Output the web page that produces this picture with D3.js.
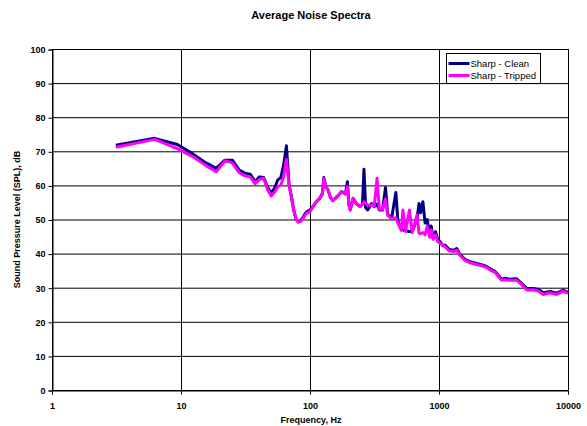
<!DOCTYPE html>
<meta charset="utf-8">
<style>
body { margin: 0; background: #fff; }
text { font-family: "Liberation Sans", Arial, sans-serif; font-weight: bold; }
</style>
<body>
<script src="https://cdn.jsdelivr.net/npm/d3@7"></script>
<script>

// frequency bins (Hz) and levels (dB)
var freq = [3.125, 6.25, 9.375, 12.5, 15.625, 18.75, 21.875, 25, 28.125, 31.25,
  34.375, 37.5, 40.625, 43.75, 46.875, 50, 53.125, 56.25, 59.375, 62.5,
  65.625, 68.75, 71.875, 75, 78.125, 81.25, 84.375, 87.5, 90.625, 93.75,
  100, 106, 112, 119, 125, 128, 133, 138, 144, 150,
  157, 165, 176, 188, 195, 200, 205, 216, 228, 245,
  255, 262, 270, 280, 300, 315, 331, 345, 365, 385,
  400, 430, 463, 480, 510, 525, 550, 590, 620, 675,
  700, 720, 750, 780, 810, 850, 870, 900, 940, 980,
  1020, 1070, 1113, 1200, 1300, 1372, 1450, 1591, 1750, 1960,
  2200, 2342, 2550, 2718, 2900, 3063, 3250, 3500, 4000, 4300,
  4785, 5387, 5900, 6441, 7250, 8170, 9200, 10000];

var clean = [71.8, 73.8, 72.0, 69.1, 66.6, 65.0, 67.4, 67.4, 64.6, 63.6,
  63.3, 61.1, 62.5, 62.3, 59.5, 57.7, 59.2, 61.6, 62.3, 66.0,
  71.6, 60.5, 56.5, 52.5, 50.0, 49.3, 49.6, 50.4, 51.4, 52.2,
  52.8, 53.9, 55.2, 56.2, 57.8, 62.3, 59.5, 58.7, 56.5, 55.5,
  56.2, 57.0, 58.2, 57.5, 61.1, 54.5, 52.8, 56.2, 54.7, 53.8,
  54.5, 64.7, 53.5, 52.8, 54.7, 53.8, 54.5, 52.8, 52.8, 59.4,
  51.5, 50.5, 57.9, 49.5, 47.2, 47.0, 46.7, 46.5, 46.5, 50.0,
  54.7, 52.0, 55.2, 49.0, 50.0, 45.0, 48.1, 44.5, 46.4, 44.0,
  43.5, 42.3, 42.5, 41.2, 41.0, 41.5, 39.8, 38.3, 37.6, 37.1,
  36.6, 36.2, 35.3, 34.8, 33.5, 32.5, 32.8, 32.5, 32.6, 31.5,
  29.8, 29.8, 29.5, 28.5, 28.9, 28.4, 29.3, 28.6];

var tripped = [71.2, 73.5, 70.8, 68.3, 65.8, 64.0, 67.2, 66.6, 63.8, 62.8,
  62.5, 60.5, 61.8, 62.0, 58.8, 56.9, 58.0, 59.6, 60.1, 62.5,
  67.6, 60.0, 56.5, 52.5, 50.0, 49.3, 49.4, 50.0, 51.0, 51.8,
  52.3, 53.8, 55.2, 56.2, 57.5, 62.0, 59.5, 58.7, 56.5, 55.5,
  56.2, 57.0, 58.2, 57.5, 59.6, 54.5, 52.8, 56.2, 54.7, 53.8,
  54.5, 55.2, 54.8, 54.2, 54.3, 54.0, 62.1, 53.0, 53.0, 56.0,
  51.2, 50.2, 50.5, 49.0, 46.8, 52.8, 46.5, 52.8, 46.2, 51.3,
  46.0, 45.8, 46.2, 45.5, 48.0, 44.8, 47.0, 44.2, 45.5, 43.5,
  43.0, 42.5, 42.0, 40.8, 40.6, 41.0, 39.5, 38.0, 37.3, 36.8,
  36.3, 35.9, 35.0, 34.5, 33.2, 32.2, 32.3, 32.2, 32.2, 31.2,
  29.3, 29.4, 29.0, 28.0, 28.5, 28.0, 29.0, 28.3];

var xTicks = [1, 10, 100, 1000, 10000];
var yTicks = [0, 10, 20, 30, 40, 50, 60, 70, 80, 90, 100];
var seriesNames = ["Sharp - Clean", "Sharp - Tripped"];
var seriesColors = ["#000080", "#ff00ff"];

var width = 587, height = 426;
var margin = {top: 49, right: 19, bottom: 36, left: 52};

var svg = d3.select("body").append("svg")
  .attr("width", width)
  .attr("height", height);

var x = d3.scaleLog().domain([1, 10000]).range([margin.left, width - margin.right]);
var y = d3.scaleLinear().domain([0, 100]).range([height - margin.bottom, margin.top]);

// grid
svg.append("g").selectAll("line")
  .data(yTicks)
  .enter().append("line")
    .attr("x1", x(1)).attr("x2", x(10000))
    .attr("y1", function(d) { return y(d) + 0.5; })
    .attr("y2", function(d) { return y(d) + 0.5; })
    .attr("stroke", "#000").attr("stroke-width", 1);

svg.append("g").selectAll("line")
  .data(xTicks)
  .enter().append("line")
    .attr("x1", function(d) { return Math.round(x(d)) + 0.5; })
    .attr("x2", function(d) { return Math.round(x(d)) + 0.5; })
    .attr("y1", y(100)).attr("y2", y(0))
    .attr("stroke", "#000").attr("stroke-width", 1);

// axes
var yAxis = svg.append("g")
  .attr("transform", "translate(" + (x(1) + 0.5) + ",0.5)")
  .call(d3.axisLeft(y).tickValues(yTicks).tickSize(4).tickPadding(3));

var xAxis = svg.append("g")
  .attr("transform", "translate(0," + (y(0) + 0.5) + ")")
  .call(d3.axisBottom(x).tickValues(xTicks).tickFormat(d3.format("d")).tickSize(4).tickPadding(8));

svg.selectAll(".domain").attr("stroke", "#000");
svg.selectAll(".tick line").attr("stroke", "#000");
svg.selectAll(".tick text").style("font-size", "9px").attr("fill", "#000");

// lines
var rows = freq.map(function(f, i) { return {f: f, v: [clean[i], tripped[i]]}; });

[0, 1].forEach(function(k) {
  var line = d3.line()
    .x(function(d) { return x(d.f); })
    .y(function(d) { return y(d.v[k]); });
  svg.append("path")
    .datum(rows)
    .attr("fill", "none")
    .attr("stroke", seriesColors[k])
    .attr("stroke-width", 3)
    .attr("stroke-linejoin", "round")
    .attr("d", line);
});

// titles
svg.append("text")
  .attr("x", 311).attr("y", 19)
  .attr("text-anchor", "middle")
  .style("font-size", "11px")
  .text("Average Noise Spectra");

svg.append("text")
  .attr("x", 311).attr("y", 423)
  .attr("text-anchor", "middle")
  .style("font-size", "9px")
  .text("Frequency, Hz");

svg.append("text")
  .attr("transform", "translate(20," + y(50) + ") rotate(-90)")
  .attr("text-anchor", "middle")
  .style("font-size", "9px")
  .text("Sound Pressure Level (SPL), dB");

// legend
var legend = svg.append("g").attr("transform", "translate(446.5,53.5)");
legend.append("rect")
  .attr("width", 94).attr("height", 30)
  .attr("fill", "#fff").attr("stroke", "#000");

var item = legend.selectAll(".item")
  .data(seriesNames)
  .enter().append("g")
    .attr("transform", function(d, i) { return "translate(0," + (10 + i * 12) + ")"; });

item.append("line")
  .attr("x1", 2).attr("x2", 23)
  .attr("stroke", function(d, i) { return seriesColors[i]; })
  .attr("stroke-width", 3);

item.append("text")
  .attr("x", 24).attr("y", 3.5)
  .style("font-size", "9.5px")
  .style("font-weight", "normal")
  .text(function(d) { return d; });

</script>
</body>
